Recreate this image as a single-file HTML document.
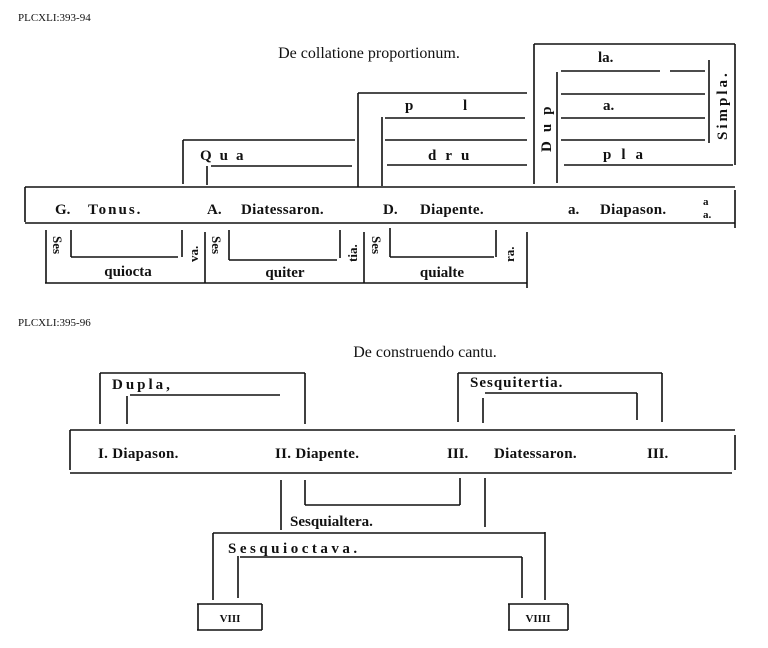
<!DOCTYPE html>
<html><head><meta charset="utf-8"><style>
html,body{margin:0;padding:0;background:#fff;}
svg{display:block;}
text{font-family:"Liberation Serif",serif;fill:#111;}
.b{font-weight:bold;font-size:15px;}
.s{font-size:11px;}
</style></head><body>
<svg width="768" height="648" viewBox="0 0 768 648" xmlns="http://www.w3.org/2000/svg">
<g stroke="#111" stroke-width="1.6" fill="none">
<path d="M25 187 H735 M25 223 H735 M25 187 V222 M735 190 V228"/>
<path d="M183 140 V184 M183 140 H355 M207 166 V185 M211 166 H352"/>
<path d="M358 93 V187 M358 93 H527 M382 117 V186 M385 118 H525 M385 140 H527 M387 165 H527"/>
<path d="M534 44 V184 M534 44 H735 M735 44 V165 M557 72 V183 M561 71 H660 M670 71 H705 M561 94 H705 M561 118 H705 M561 140 H705 M564 165 H733 M709 60 V143"/>
<path d="M45 283 H527 M46 230 V283 M71 230 V257 M71 257 H178 M182 230 V257 M205 232 V283 M229 230 V260 M229 260 H337 M340 230 V258 M364 232 V283 M390 228 V257 M390 257 H494 M496 230 V257 M527 232 V288"/>
<path d="M70 430 H735 M70 473 H732 M70 430 V470 M735 435 V470"/>
<path d="M100 373 V424 M100 373 H305 M305 373 V424 M127 396 V424 M130 395 H280"/>
<path d="M458 373 V422 M458 373 H662 M662 373 V422 M483 398 V423 M485 393 H637 M637 393 V420"/>
<path d="M281 480 V530 M305 480 V505 M305 505 H460 M460 478 V505 M485 478 V527"/>
<path d="M213 533 H545 M213 533 V600 M545 532 V600 M238 556 V598 M240 557 H522 M522 557 V598"/>
<path d="M197 604 H262 M197 630 H262 M198 604 V630 M262 604 V630 M508 604 H568 M508 630 H568 M509 604 V630 M568 604 V630"/>
</g>
<text x="18" y="21" class="s">PLCXLI:393-94</text>
<text x="18" y="326" class="s">PLCXLI:395-96</text>
<text x="369" y="58" text-anchor="middle" style="font-size:16px">De collatione proportionum.</text>
<text x="425" y="357" text-anchor="middle" style="font-size:16px">De construendo cantu.</text>
<g class="b">
<text x="55" y="214">G.</text>
<text x="88" y="214" letter-spacing="2">Tonus.</text>
<text x="207" y="214">A.</text>
<text x="241" y="214" letter-spacing="0.3">Diatessaron.</text>
<text x="383" y="214">D.</text>
<text x="420" y="214" letter-spacing="0.3">Diapente.</text>
<text x="568" y="214">a.</text>
<text x="600" y="214" letter-spacing="0.3">Diapason.</text>
<text x="703" y="205" style="font-size:11px">a</text>
<text x="703" y="218" style="font-size:11px">a.</text>
<text x="200" y="160" letter-spacing="8">Qua</text>
<text x="405" y="110">p</text>
<text x="463" y="110">l</text>
<text x="428" y="160" letter-spacing="9">dru</text>
<text x="598" y="62">la.</text>
<text x="603" y="110">a.</text>
<text x="603" y="159" letter-spacing="10">pla</text>
<text transform="translate(551,152) rotate(-90)" letter-spacing="9">Dup</text>
<text transform="translate(727,140) rotate(-90)" letter-spacing="3">Simpla.</text>
<text transform="translate(53,236) rotate(90)" style="font-size:13px">Ses</text>
<text transform="translate(212,236) rotate(90)" style="font-size:13px">Ses</text>
<text transform="translate(372,236) rotate(90)" style="font-size:13px">Ses</text>
<text transform="translate(198,262) rotate(-90)" style="font-size:13px">va.</text>
<text transform="translate(357,262) rotate(-90)" style="font-size:13px">tia.</text>
<text transform="translate(514,262) rotate(-90)" style="font-size:13px">ra.</text>
<text x="128" y="276" text-anchor="middle">quiocta</text>
<text x="285" y="277" text-anchor="middle">quiter</text>
<text x="442" y="277" text-anchor="middle">quialte</text>
<text x="98" y="458" letter-spacing="0.3">I. Diapason.</text>
<text x="275" y="458" letter-spacing="0.3">II. Diapente.</text>
<text x="447" y="458">III.</text>
<text x="494" y="458" letter-spacing="0.3">Diatessaron.</text>
<text x="647" y="458">III.</text>
<text x="112" y="389" letter-spacing="3">Dupla,</text>
<text x="470" y="387" letter-spacing="1">Sesquitertia.</text>
<text x="290" y="526">Sesquialtera.</text>
<text x="228" y="553" letter-spacing="3.5">Sesquioctava.</text>
<text x="230" y="622" text-anchor="middle" style="font-size:11px">VIII</text>
<text x="538" y="622" text-anchor="middle" style="font-size:11px">VIIII</text>
</g>
</svg>
</body></html>
